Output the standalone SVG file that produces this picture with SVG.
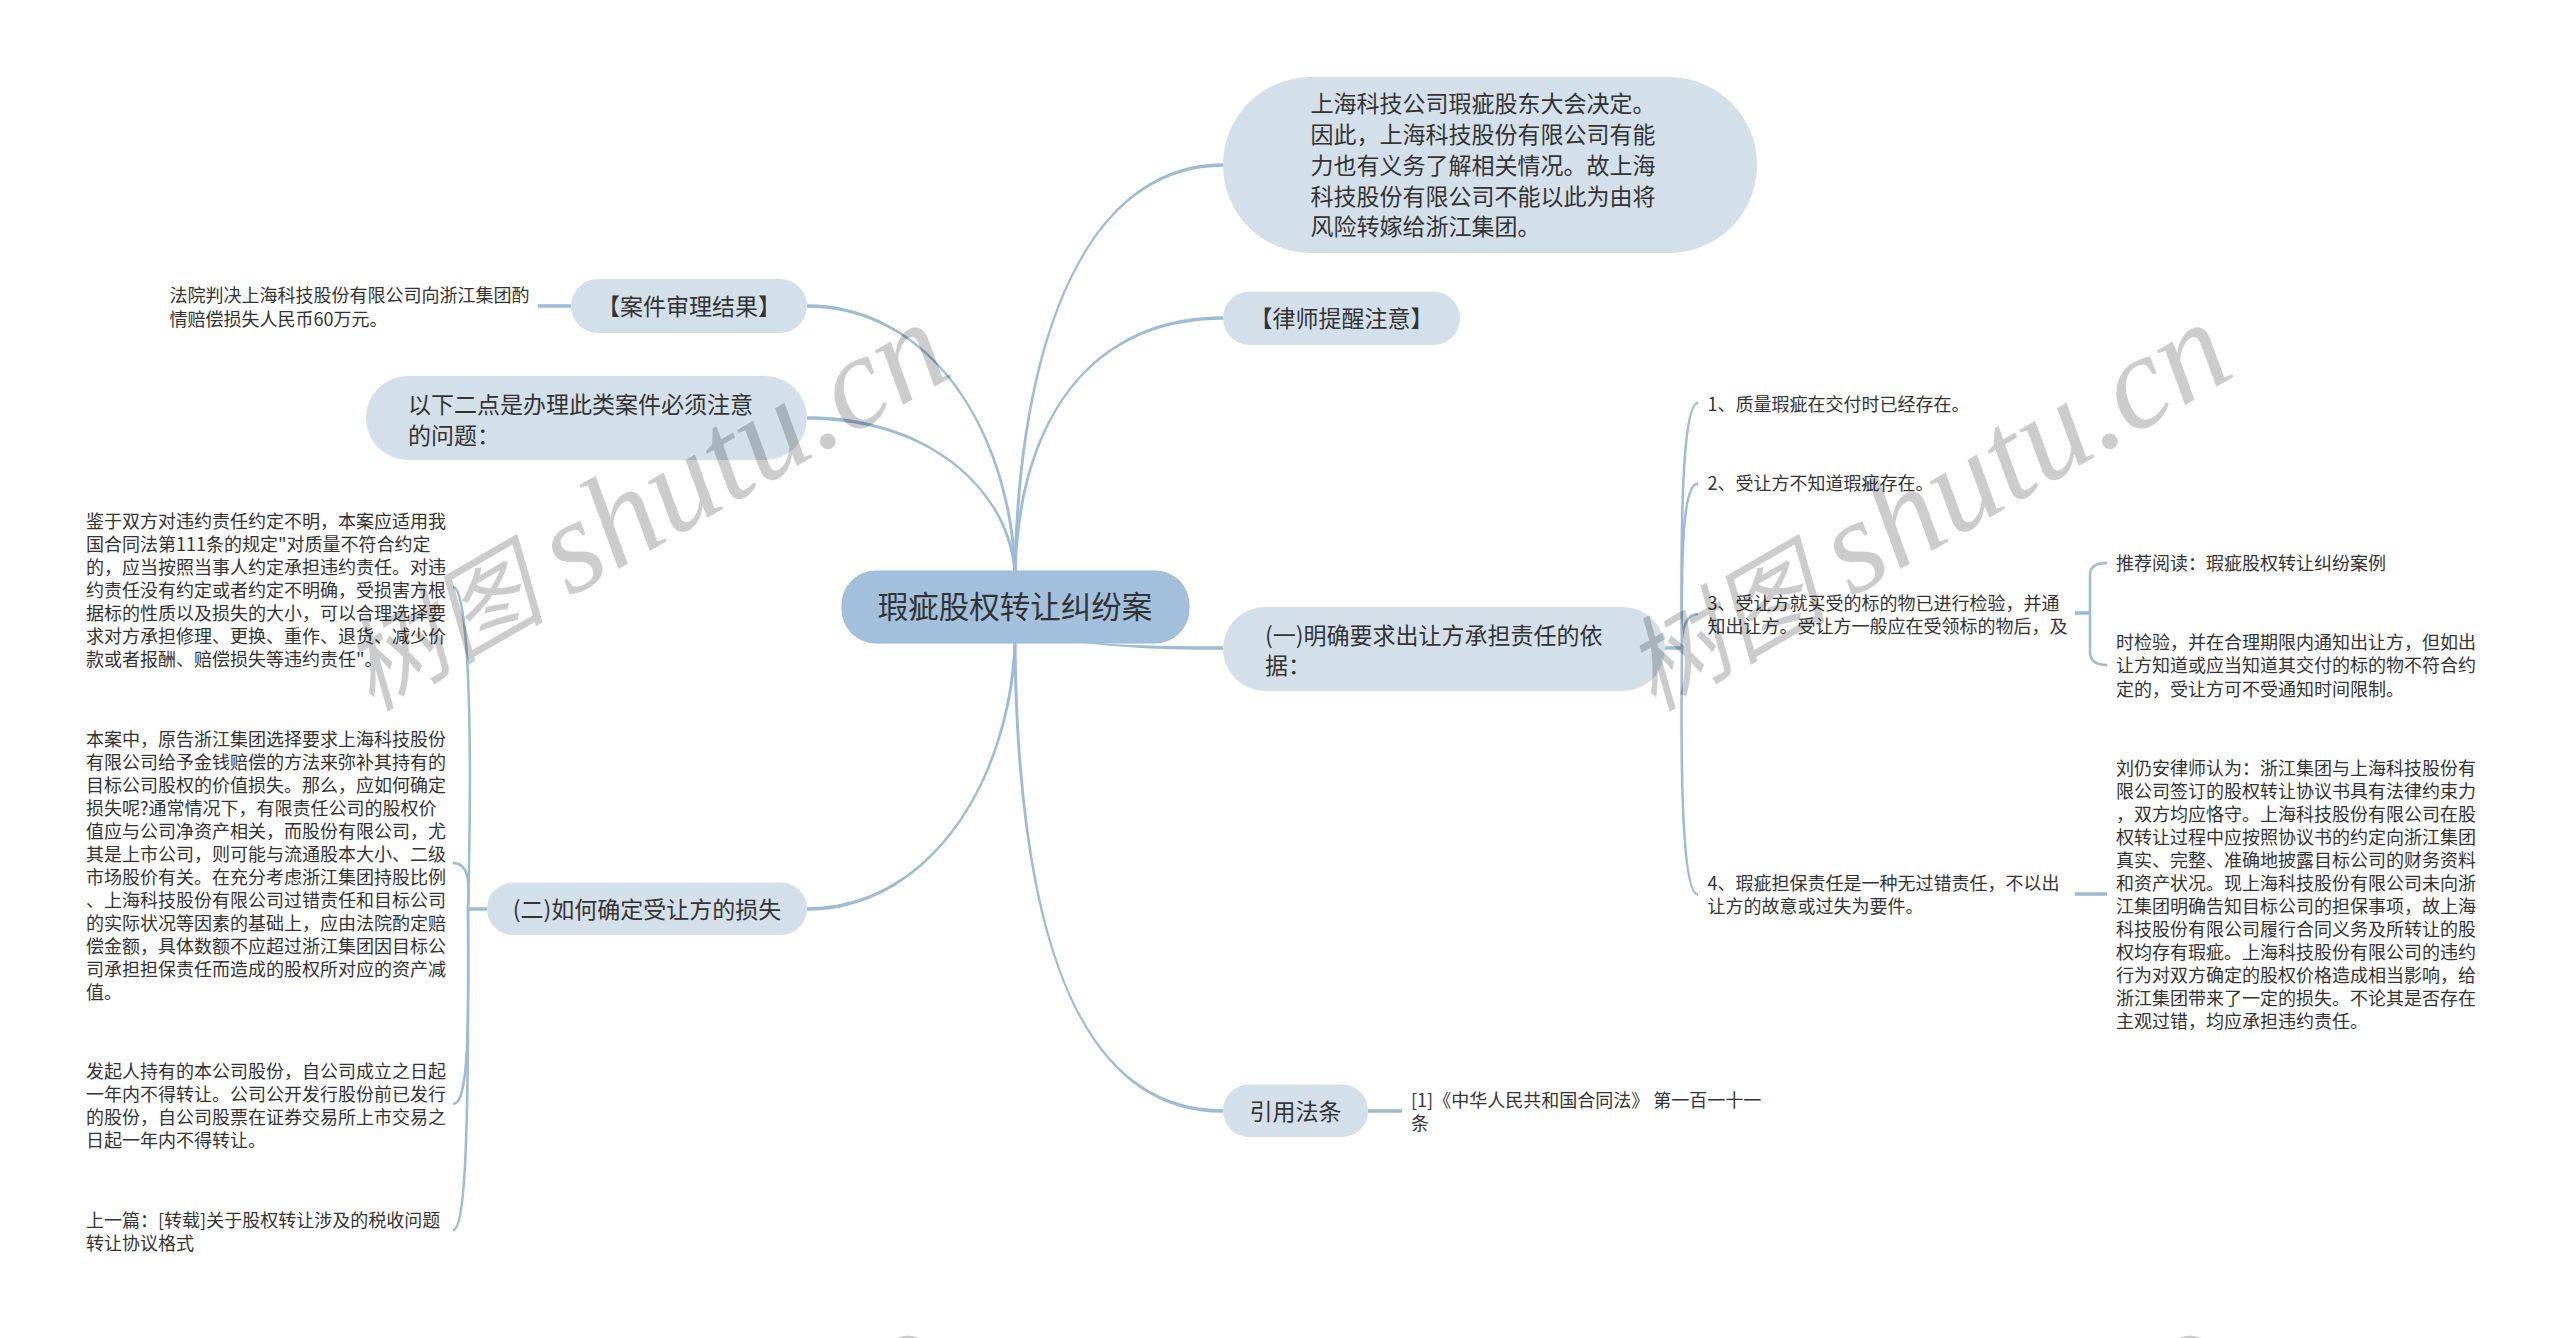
<svg xmlns="http://www.w3.org/2000/svg" width="2560" height="1338" viewBox="0 0 2560 1338">
<style>
text{font-family:"Noto Sans CJK SC","Liberation Sans",sans-serif;fill:#333}
.n{fill:#d3e0ea}
.r{fill:#a2c0dc;stroke:#9ab8d5;stroke-width:1}
.m{font-size:23px}
.s{font-size:18px}
.t{font-size:30.500px}
.c{text-anchor:middle}
.f{fill:#9dbbd6}
.l{fill:none;stroke:#9dbbd6;stroke-width:2.500}
.h{fill:none;stroke:#9dbbd6;stroke-width:3.500}
text.w{font-size:133px;font-style:italic;font-family:"Liberation Serif","Noto Sans CJK SC",serif;fill:#000;fill-opacity:.2}
.wc{font-size:102px}
</style>
<rect width="2560" height="1338" fill="#fff"/>
<g id="connectors">
<path class="f" d="M1013.500 571C1018.500 330 1090 163.200 1223 163.200L1223 166.800C1090 166.800 1021.500 330 1016.500 571Z"/>
<path class="f" d="M1013.500 571C1018.500 420 1090 316.200 1223 316.200L1223 319.800C1090 319.800 1021.500 420 1016.500 571Z"/>
<path class="f" d="M1016.500 571C1011.500 430 930 304.200 807 304.200L807 307.800C930 307.800 1008.500 430 1013.500 571Z"/>
<path class="f" d="M1016.500 571C1009.500 490 930 416.200 807 416.200L807 419.800C930 419.800 1006.500 490 1013.500 571Z"/>
<path class="f" d="M1016.500 643C1011.500 780 930 910.800 807 910.800L807 907.200C930 907.200 1008.500 780 1013.500 643Z"/>
<path class="f" d="M1013.500 643C1016.500 950 1085 1112.800 1223 1112.800L1223 1109.200C1085 1109.200 1019.500 950 1016.500 643Z"/>
<path class="f" d="M1070 640C1120 646.500 1170 646.200 1223 646.200L1223 649.800C1170 649.800 1120 648.500 1070 641Z"/>
<path class="h" d="M571 306H538"/>
<path class="h" d="M1368 1111H1402"/>
<path class="h" d="M487 909H468"/>
<path class="l" d="M468 909C473 720 468 587 453 587"/>
<path class="l" d="M468 909C470 880 468 863 453 863"/>
<path class="l" d="M468 909C469 1040 468 1104 453 1104"/>
<path class="l" d="M468 909C469 1120 466 1230 453 1230"/>
<path class="h" d="M1665 648H1682"/>
<path class="l" d="M1682 648C1680 500 1684 403 1698 403"/>
<path class="l" d="M1682 648C1681 540 1684 483.500 1698 483.500"/>
<path class="l" d="M1682 648C1682 630 1685 614 1698 614"/>
<path class="l" d="M1682 648C1680 800 1684 894.500 1698 894.500"/>
<path class="h" d="M2075 613H2090"/>
<path class="l" d="M2090 613V575Q2090 563 2107 563"/>
<path class="l" d="M2090 613V652Q2090 665 2107 665"/>
<path class="h" d="M2075 894H2107"/>
</g>
<g id="root"><rect class="r" x="842" y="571" width="347" height="72" rx="34"/><text class="t c" x="1015" y="618">瑕疵股权转让纠纷案</text></g>
<g id="n-top"><rect class="n" x="1223" y="77" width="534" height="176" rx="88"/>
<text class="m"><tspan x="1310.500" y="112">上海科技公司瑕疵股东大会决定。</tspan><tspan x="1310.500" y="143">因此，上海科技股份有限公司有能</tspan><tspan x="1310.500" y="174">力也有义务了解相关情况。故上海</tspan><tspan x="1310.500" y="204.500">科技股份有限公司不能以此为由将</tspan><tspan x="1310.500" y="235">风险转嫁给浙江集团。</tspan></text></g>
<g id="n-lawyer"><rect class="n" x="1223" y="291.500" width="237" height="53.500" rx="26.700"/><text class="m c" x="1341.500" y="326.500">【律师提醒注意】</text></g>
<g id="n-one"><rect class="n" x="1223" y="607" width="442" height="84" rx="42"/>
<text class="m"><tspan x="1265" y="643.500">(一)明确要求出让方承担责任的依</tspan><tspan x="1265" y="674">据：</tspan></text></g>
<g id="n-cite"><rect class="n" x="1223" y="1084.500" width="145" height="52.500" rx="26"/><text class="m c" x="1295.500" y="1119.500">引用法条</text></g>
<g id="n-result"><rect class="n" x="571" y="279" width="236" height="54" rx="27"/><text class="m c" x="689" y="314.500">【案件审理结果】</text></g>
<g id="n-note"><rect class="n" x="366" y="376" width="441" height="84" rx="42"/>
<text class="m"><tspan x="408" y="412.500">以下二点是办理此类案件必须注意</tspan><tspan x="408" y="443.500">的问题：</tspan></text></g>
<g id="n-two"><rect class="n" x="487" y="882.500" width="320" height="52.500" rx="26"/><text class="m c" x="647" y="917.500">(二)如何确定受让方的损失</text></g>
<g id="t-result"><text class="s"><tspan x="169.500" y="302">法院判决上海科技股份有限公司向浙江集团酌</tspan><tspan x="169.500" y="325.500">情赔偿损失人民币60万元。</tspan></text></g>
<g id="t-left1"><text class="s"><tspan x="86" y="528">鉴于双方对违约责任约定不明，本案应适用我</tspan><tspan x="86" y="551">国合同法第111条的规定"对质量不符合约定</tspan><tspan x="86" y="574">的，应当按照当事人约定承担违约责任。对违</tspan><tspan x="86" y="597">约责任没有约定或者约定不明确，受损害方根</tspan><tspan x="86" y="620">据标的性质以及损失的大小，可以合理选择要</tspan><tspan x="86" y="643">求对方承担修理、更换、重作、退货、减少价</tspan><tspan x="86" y="666">款或者报酬、赔偿损失等违约责任"。</tspan></text></g>
<g id="t-left2"><text class="s"><tspan x="86" y="745.500">本案中，原告浙江集团选择要求上海科技股份</tspan><tspan x="86" y="768.500">有限公司给予金钱赔偿的方法来弥补其持有的</tspan><tspan x="86" y="791.500">目标公司股权的价值损失。那么，应如何确定</tspan><tspan x="86" y="814.500">损失呢?通常情况下，有限责任公司的股权价</tspan><tspan x="86" y="837.500">值应与公司净资产相关，而股份有限公司，尤</tspan><tspan x="86" y="860.500">其是上市公司，则可能与流通股本大小、二级</tspan><tspan x="86" y="883.500">市场股价有关。在充分考虑浙江集团持股比例</tspan><tspan x="86" y="906.500">、上海科技股份有限公司过错责任和目标公司</tspan><tspan x="86" y="929.500">的实际状况等因素的基础上，应由法院酌定赔</tspan><tspan x="86" y="952.500">偿金额，具体数额不应超过浙江集团因目标公</tspan><tspan x="86" y="975.500">司承担担保责任而造成的股权所对应的资产减</tspan><tspan x="86" y="998.500">值。</tspan></text></g>
<g id="t-left3"><text class="s"><tspan x="86" y="1078">发起人持有的本公司股份，自公司成立之日起</tspan><tspan x="86" y="1101">一年内不得转让。公司公开发行股份前已发行</tspan><tspan x="86" y="1124">的股份，自公司股票在证券交易所上市交易之</tspan><tspan x="86" y="1147">日起一年内不得转让。</tspan></text></g>
<g id="t-left4"><text class="s"><tspan x="86" y="1227">上一篇：[转载]关于股权转让涉及的税收问题</tspan><tspan x="86" y="1250">转让协议格式</tspan></text></g>
<g id="t-r1"><text class="s" x="1707.500" y="411">1、质量瑕疵在交付时已经存在。</text></g>
<g id="t-r2"><text class="s" x="1707.500" y="490">2、受让方不知道瑕疵存在。</text></g>
<g id="t-r3"><text class="s"><tspan x="1707.500" y="609.500">3、受让方就买受的标的物已进行检验，并通</tspan><tspan x="1707.500" y="632.500">知出让方。受让方一般应在受领标的物后，及</tspan></text></g>
<g id="t-r4"><text class="s"><tspan x="1707.500" y="889.500">4、瑕疵担保责任是一种无过错责任，不以出</tspan><tspan x="1707.500" y="913">让方的故意或过失为要件。</tspan></text></g>
<g id="t-read"><text class="s" x="2116" y="569.500">推荐阅读：瑕疵股权转让纠纷案例</text></g>
<g id="t-time"><text class="s"><tspan x="2116" y="648.500">时检验，并在合理期限内通知出让方，但如出</tspan><tspan x="2116" y="672">让方知道或应当知道其交付的标的物不符合约</tspan><tspan x="2116" y="695.500">定的，受让方可不受通知时间限制。</tspan></text></g>
<g id="t-liu"><text class="s"><tspan x="2116" y="775">刘仍安律师认为：浙江集团与上海科技股份有</tspan><tspan x="2116" y="798">限公司签订的股权转让协议书具有法律约束力</tspan><tspan x="2116" y="821">，双方均应恪守。上海科技股份有限公司在股</tspan><tspan x="2116" y="844">权转让过程中应按照协议书的约定向浙江集团</tspan><tspan x="2116" y="867">真实、完整、准确地披露目标公司的财务资料</tspan><tspan x="2116" y="890">和资产状况。现上海科技股份有限公司未向浙</tspan><tspan x="2116" y="913">江集团明确告知目标公司的担保事项，故上海</tspan><tspan x="2116" y="936">科技股份有限公司履行合同义务及所转让的股</tspan><tspan x="2116" y="959">权均存有瑕疵。上海科技股份有限公司的违约</tspan><tspan x="2116" y="982">行为对双方确定的股权价格造成相当影响，给</tspan><tspan x="2116" y="1005">浙江集团带来了一定的损失。不论其是否存在</tspan><tspan x="2116" y="1027.500">主观过错，均应承担违约责任。</tspan></text></g>
<g id="t-cite"><text class="s"><tspan x="1411" y="1107">[1]《中华人民共和国合同法》 第一百一十一</tspan><tspan x="1411" y="1130">条</tspan></text></g>
<g id="watermark">
<text class="w" transform="translate(371,712) rotate(-30)"><tspan class="wc">树图</tspan> <tspan dx="-8">shutu.cn</tspan></text>
<text class="w" transform="translate(1653,712) rotate(-30)"><tspan class="wc">树图</tspan> <tspan dx="-8">shutu.cn</tspan></text>
<path d="M897 1338Q908 1333 919 1338Z" fill="#000" fill-opacity=".2"/>
<path d="M2179 1338Q2190 1333 2201 1338Z" fill="#000" fill-opacity=".2"/>
</g>
</svg>
